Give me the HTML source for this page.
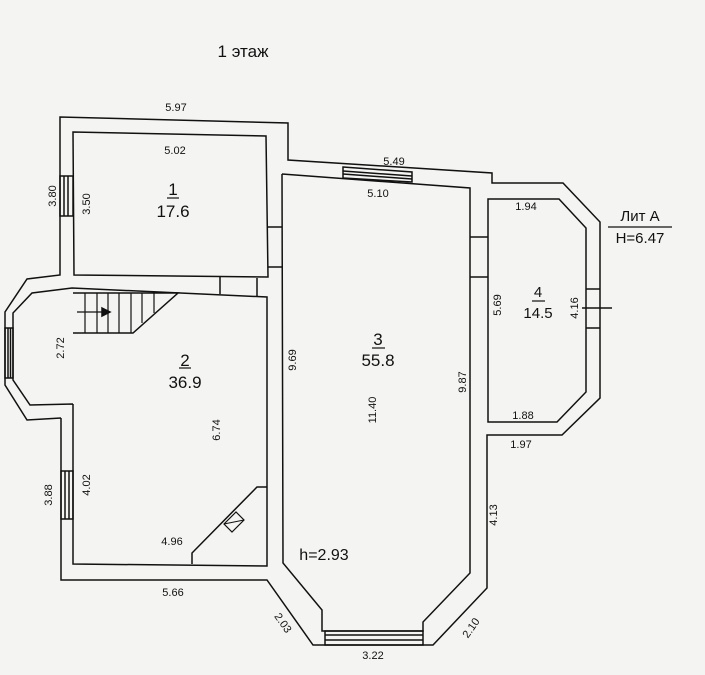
<!DOCTYPE html>
<html><head><meta charset="utf-8"><style>
html,body{margin:0;padding:0;background:#f4f4f2;}
svg{display:block}
text{font-family:"Liberation Sans","DejaVu Sans",sans-serif;fill:#111}
</style></head><body>
<svg width="705" height="675" viewBox="0 0 705 675" xmlns="http://www.w3.org/2000/svg">
<rect width="705" height="675" fill="#f4f4f2"/>
<g fill="none" stroke="#111" stroke-width="1.5" stroke-linejoin="miter">
<polyline points="61,418 27,420 5,385 5,312 27,279 60,275 60,117 288,123 288,160 492,173 492,183 563,183 600,222 600,398 562,435 487,435 487,588 433,645 313,645 267,580 61,580 61,418"/>
<polygon points="73,132 266,136 268,277 74,275"/>
<polyline points="73,404 30,405 13,380 13,313 32,293 72,288 267,297 267,566 73,564 73,404"/>
<polyline points="282,174 470,188 470,573 423,622 423,631 322,631 322,610 283,563 282,174"/>
<polygon points="488,199 559,199 586,228 586,392 557,422 488,422"/>
<line x1="268" y1="227" x2="282" y2="227"/><line x1="268" y1="267" x2="282" y2="267"/>
<line x1="220" y1="277" x2="220" y2="294"/><line x1="257" y1="278" x2="257" y2="296"/>
<line x1="470" y1="237" x2="488" y2="237"/><line x1="470" y1="277" x2="488" y2="277"/>
<rect x="60" y="176" width="13" height="40"/><line x1="64" y1="176" x2="64" y2="216"/><line x1="68" y1="176" x2="68" y2="216"/>
<rect x="61" y="471" width="12" height="48"/><line x1="65" y1="471" x2="65" y2="519"/><line x1="69" y1="471" x2="69" y2="519"/>
<rect x="5" y="328" width="8" height="50"/><line x1="8" y1="328" x2="8" y2="378"/><line x1="10.5" y1="328" x2="10.5" y2="378"/>
<polygon points="343,167 412,172 412,182 343,178"/><line x1="343" y1="171" x2="412" y2="176"/><line x1="343" y1="174" x2="412" y2="179"/>
<rect x="325" y="631" width="98" height="14"/><line x1="325" y1="635" x2="423" y2="635"/><line x1="325" y1="640" x2="423" y2="640"/>
<line x1="586" y1="289" x2="600" y2="289"/><line x1="586" y1="328" x2="600" y2="328"/>
<line x1="582" y1="308" x2="612" y2="308"/>
<polyline points="73,293 178,293 133,333 73,333"/>
<g stroke-width="1.2">
<line x1="85" y1="293" x2="85" y2="333"/><line x1="97" y1="293" x2="97" y2="333"/><line x1="108" y1="293" x2="108" y2="333"/><line x1="119" y1="293" x2="119" y2="333"/><line x1="131" y1="293" x2="131" y2="333"/><line x1="142" y1="293" x2="142" y2="323"/><line x1="154" y1="293" x2="154" y2="313"/>
<line x1="77" y1="312" x2="108" y2="312"/>
</g>
<polygon points="102,308 110,312 102,316" fill="#111"/>
<polyline points="192,564 192,553 257,487 267,487"/>
<polygon points="224,524 236,512 244,520 232,532" stroke-width="1.2"/>
<line x1="224" y1="524" x2="244" y2="520" stroke-width="1"/>
<line x1="608" y1="227" x2="672" y2="227" stroke-width="1.2"/>
<line x1="167" y1="198" x2="179" y2="198" stroke-width="1.2"/>
<line x1="179" y1="368" x2="191" y2="368" stroke-width="1.2"/>
<line x1="372" y1="348" x2="385" y2="348" stroke-width="1.2"/>
<line x1="532" y1="301" x2="545" y2="301" stroke-width="1.2"/>
</g>
<g font-size="11" text-anchor="middle">
<text x="243" y="57" font-size="17">1 этаж</text>
<text x="176" y="111">5.97</text>
<text x="175" y="154">5.02</text>
<text transform="translate(56,196) rotate(-90)">3.80</text>
<text transform="translate(90,204) rotate(-90)">3.50</text>
<text x="173" y="195" font-size="17">1</text>
<text x="173" y="217" font-size="17">17.6</text>
<text x="394" y="165">5.49</text>
<text x="378" y="197">5.10</text>
<text x="526" y="210">1.94</text>
<text x="640" y="221" font-size="15">Лит  А</text>
<text x="640" y="243" font-size="15">Н=6.47</text>
<text x="538" y="297" font-size="15">4</text>
<text x="538" y="318" font-size="15">14.5</text>
<text transform="translate(501,305) rotate(-90)">5.69</text>
<text transform="translate(578,308) rotate(-90)">4.16</text>
<text x="378" y="345" font-size="17">3</text>
<text x="378" y="366" font-size="17">55.8</text>
<text transform="translate(296,360) rotate(-90)">9.69</text>
<text transform="translate(64,348) rotate(-90)">2.72</text>
<text x="185" y="366" font-size="17">2</text>
<text x="185" y="388" font-size="17">36.9</text>
<text transform="translate(466,382) rotate(-90)">9.87</text>
<text transform="translate(376,410) rotate(-90)">11.40</text>
<text transform="translate(220,430) rotate(-90)">6.74</text>
<text x="523" y="419">1.88</text>
<text x="521" y="448">1.97</text>
<text transform="translate(90,485) rotate(-90)">4.02</text>
<text transform="translate(52,495) rotate(-90)">3.88</text>
<text transform="translate(497,515) rotate(-90)">4.13</text>
<text x="172" y="545">4.96</text>
<text x="324" y="560" font-size="16">h=2.93</text>
<text x="173" y="596">5.66</text>
<text transform="translate(280,625) rotate(55)">2.03</text>
<text transform="translate(474,630) rotate(-55)">2.10</text>
<text x="373" y="659">3.22</text>
</g>
</svg>
</body></html>
